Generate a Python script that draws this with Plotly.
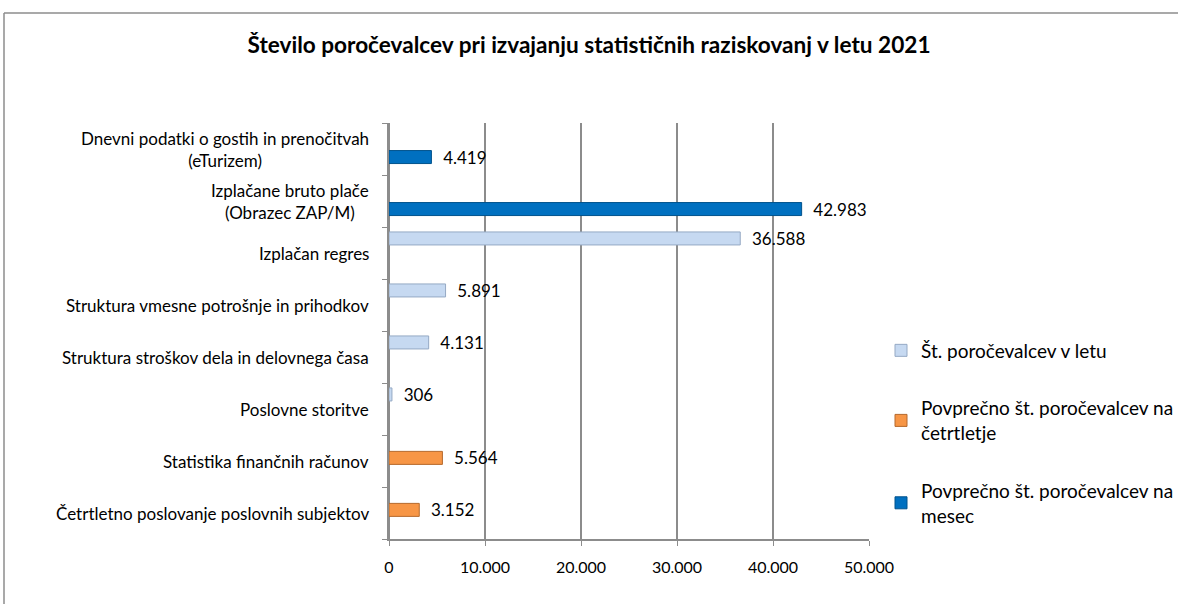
import plotly.graph_objects as go

# categories from bottom to top
categories = [
    "Četrtletno poslovanje poslovnih subjektov",
    "Statistika finančnih računov",
    "Poslovne storitve",
    "Struktura stroškov dela in delovnega časa",
    "Struktura vmesne potrošnje in prihodkov",
    "Izplačan regres",
    "Izplačane bruto plače<br>(Obrazec ZAP/M)",
    "Dnevni podatki o gostih in prenočitvah<br>(eTurizem)",
]

leto = [None, None, 306, 4131, 5891, 36588, None, None]
cetrtletje = [3152, 5564, None, None, None, None, None, None]
mesec = [None, None, None, None, None, None, 42983, 4419]

x_ticks = [0, 10000, 20000, 30000, 40000, 50000]

FONT = "Lato"
GRID = "#8c8c8c"

fig = go.Figure()

# legend order top->bottom, offsets put the bars where Excel's grouped 3D bars sit
series = [
    ("Št. poročevalcev v letu", leto, "#c6d9f1", "#95a9c4", 0.155),
    ("Povprečno št. poročevalcev na<br>četrtletje", cetrtletje, "#f79646", "#b5692c", -0.065),
    ("Povprečno št. poročevalcev na<br>mesec", mesec, "#0070c0", "#00528c", -0.28),
]

for name, vals, color, edge, off in series:
    fig.add_trace(go.Bar(
        y=categories, x=vals, name=name, orientation="h",
        marker=dict(color=color, line=dict(color=edge, width=1)),
        width=0.25, offset=off,
        text=vals, texttemplate="  %{x:,}", textposition="outside",
        constraintext="none",
        textfont=dict(family=FONT, size=17, color="#000000"),
        cliponaxis=False, legendgroup=name,
    ))

W, H = 1178, 604
L, R, T, B = 389, 309, 123, 65
pw, ph = W - L - R, H - T - B


def px(x):
    return (x - L) / pw


def py_(y):
    return (H - B - y) / ph


# category labels as annotations so that wrapped lines are centred like in Excel
for cat in categories:
    fig.add_annotation(
        text=cat, xref="paper", x=px(371), xanchor="right",
        yref="y", y=cat, yanchor="middle", align="center",
        showarrow=False, font=dict(family=FONT, size=17, color="#000000"),
    )

fig.update_layout(
    width=W, height=H,
    margin=dict(l=L, r=R, t=T, b=B, autoexpand=False),
    paper_bgcolor="white", plot_bgcolor="white",
    separators=",.",
    barmode="overlay",
    font=dict(family=FONT, size=17, color="#000000"),
    title=dict(
        text="<b>Število poročevalcev pri izvajanju statističnih raziskovanj v letu 2021</b>",
        x=0.5, xanchor="center", y=1 - 45 / H, yanchor="middle",
        font=dict(family=FONT, size=22.6, color="#000000"),
    ),
    xaxis=dict(
        range=[0, 50000], tickvals=x_ticks, tickformat=",",
        showgrid=True, gridcolor=GRID, gridwidth=1.5,
        zeroline=True, zerolinecolor=GRID, zerolinewidth=1.5,
        showline=True, linecolor=GRID, linewidth=1.5,
        ticks="outside", ticklen=5, tickcolor=GRID,
        tickfont=dict(family=FONT, size=16), ticklabelstandoff=8,
    ),
    yaxis=dict(
        range=[-0.5, 7.5], categoryorder="array", categoryarray=categories,
        showgrid=False, showline=True, linecolor=GRID, linewidth=1.5,
        ticks="outside", ticklen=5, tickcolor=GRID,
        tickson="boundaries", showticklabels=False,
    ),
    legend=dict(
        x=px(881), xanchor="left", y=py_(433), yanchor="middle",
        traceorder="grouped", tracegroupgap=30,
        font=dict(family=FONT, size=19), itemwidth=30,
        bgcolor="rgba(0,0,0,0)",
    ),
    shapes=[
        dict(type="line", xref="paper", yref="paper",
             x0=px(4), x1=px(4), y0=py_(13), y1=py_(H),
             line=dict(color="#8c8c8c", width=1.5)),
        dict(type="line", xref="paper", yref="paper",
             x0=px(4), x1=px(W), y0=py_(13), y1=py_(13),
             line=dict(color="#8c8c8c", width=1.5)),
    ],
)

fig.write_html("out.html", config={"displayModeBar": False},
               post_script="document.body.style.margin='0';")
